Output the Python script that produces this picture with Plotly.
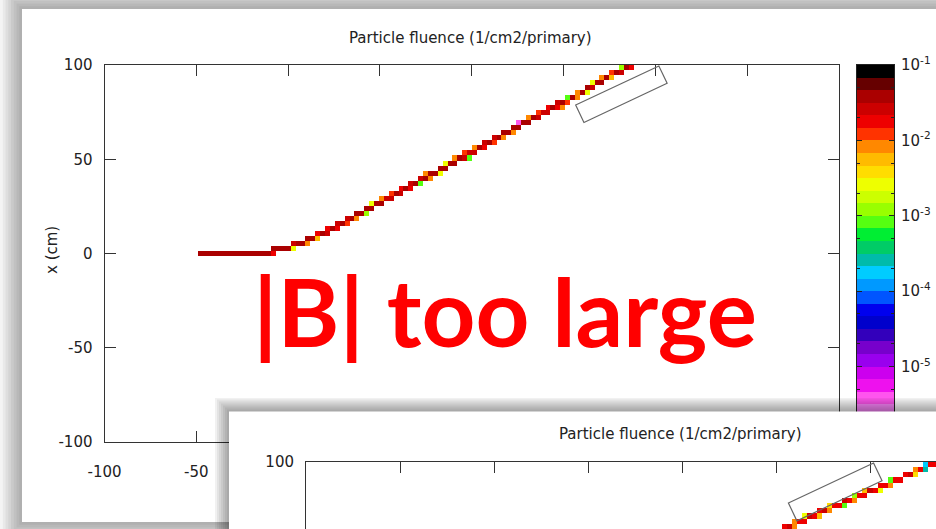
import math
import plotly.graph_objects as go

W, H = 936, 529

# ---------------- data ----------------
title_text = "Particle fluence (1/cm2/primary)"
overlay_text = "|B| too large"
vert_title = "x (cm)"

z_range = [-100, 300]      # horizontal axis (cm)
x_range = [-100, 100]      # vertical axis (cm)
n_zbins = 150
n_xbins = 75
z_ticks_labelled = [-100, -50]                       # the rest are hidden by the inset
z_tick_labels = ["-100", "-50"]
z_ticks_unlabelled = [0, 50, 100, 150, 200, 250, 300]
z_ticks = [-100, -50, 0, 50, 100, 150, 200, 250, 300]
x_ticks = [-100, -50, 0, 50, 100]
x_tick_labels = ["-100", "-50", "0", "50", "100"]

cb_log_range = [-6, -1]
cb_decades = [-1, -2, -3, -4, -5]
cb_labels = ["10<sup>-1</sup>", "10<sup>-2</sup>", "10<sup>-3</sup>",
             "10<sup>-4</sup>", "10<sup>-5</sup>"]
# palette, top (10^-1) to bottom (10^-6)
cb_colors = ["#000000", "#660000", "#aa0000", "#cc0000", "#ee0000", "#ff3300",
             "#ff8800", "#ffbb00", "#ffdd00", "#eeff00", "#ccff00", "#99ff00",
             "#55ff11", "#00ee33", "#00cc66", "#00bbaa", "#00ccff", "#0099ff",
             "#0055ff", "#0000ee", "#0000cc", "#3300bb", "#7700cc", "#9900ee",
             "#cc00ee", "#ee11ee", "#ff55ee", "#ff88ff", "#ffaaff", "#ffccff"]

# magnet box outline (z, x in cm)
box_z = [156.6, 201.9, 206.4, 161.1]
box_x = [78.8, 99.5, 90.3, 69.5]

# panel 1 track: per row of x-bins, centre of first z-cell and log10(fluence) of consecutive cells
p1_row_x = [0.0, 2.67, 5.33, 8.0, 10.67, 13.33, 16.0, 18.67, 21.33, 24.0, 26.67, 29.33,
            32.0, 34.67, 37.33, 40.0, 42.67, 45.33, 48.0, 50.67, 53.33, 56.0, 58.67, 61.33,
            64.0, 66.67, 69.33, 72.0, 74.67, 77.33, 80.0, 82.67, 85.33, 88.0, 90.67, 93.33,
            96.0, 98.67]
p1_row_z0 = [-48.0, -8.0, 2.67, 10.67, 16.0, 21.33, 26.67, 32.0, 37.33, 42.67, 45.33, 50.67,
             56.0, 61.33, 66.67, 72.0, 74.67, 82.67, 85.33, 90.67, 96.0, 101.33, 106.67, 112.0,
             117.33, 122.67, 125.33, 130.67, 136.0, 141.33, 146.67, 152.0, 157.33, 162.67,
             165.33, 170.67, 176.0, 181.33]
p1_row_logf = [
    [-1.42, -1.41, -1.40, -1.42, -1.41, -1.40, -1.42, -1.41, -1.40, -1.42, -1.41, -1.40,
     -1.42, -1.41, -1.40, -1.80],
    [-1.45, -1.40, -1.40, -1.45, -2.60],
    [-1.52, -1.40, -1.42, -2.10],
    [-1.42, -1.40, -2.20],
    [-1.75, -1.40, -1.60],
    [-1.76, -1.40, -1.76],
    [-1.65, -1.40, -1.91],
    [-1.56, -1.40, -2.13],
    [-1.49, -1.40, -2.90],
    [-1.43, -1.43],
    [-2.60, -1.40, -1.49],
    [-2.13, -1.55, -1.56],
    [-1.91, -1.40, -1.65],
    [-1.76, -1.40, -1.76],
    [-1.65, -1.40, -3.10],
    [-1.56, -1.40, -2.13],
    [-2.10, -1.49, -1.40, -2.60],
    [-1.43, -1.43],
    [-2.60, -1.40, -1.49],
    [-2.13, -1.40, -1.56, -3.10],
    [-1.91, -1.58, -1.65],
    [-2.10, -1.40, -1.76],
    [-1.65, -1.40, -1.91],
    [-1.56, -1.40, -2.13],
    [-1.49, -1.40, -2.10],
    [-1.43, -1.43],
    [-5.40, -1.40, -1.49],
    [-2.13, -1.40, -1.56],
    [-1.91, -1.55, -1.65],
    [-1.76, -1.40, -1.76, -2.10],
    [-1.65, -1.40, -1.91],
    [-3.10, -1.40, -2.13],
    [-2.15, -1.40, -2.60],
    [-1.43, -1.60],
    [-2.60, -1.40, -1.49],
    [-2.13, -1.40, -2.20],
    [-1.91, -1.40, -1.65],
    [-2.95, -1.40, -1.76],
]

# panel 2 track (lower-right inset)
p2_row_x = [64.0, 66.67, 69.33, 72.0, 74.67, 77.33, 80.0, 82.67, 85.33, 88.0, 90.67, 93.33,
            96.0, 98.67]
p2_row_z0 = [149.33, 154.67, 160.0, 165.33, 173.33, 178.67, 186.67, 192.0, 197.33, 205.33,
             210.67, 218.67, 224.0, 229.33]
p2_row_logf = [
    [-1.70, -1.80, -2.60],
    [-1.75, -1.65, -2.10],
    [-2.02, -1.70, -1.75],
    [-2.60, -1.65, -1.80, -2.20],
    [-1.70, -1.65, -2.05],
    [-2.40, -1.70, -1.80, -3.10],
    [-1.65, -1.75, -2.10],
    [-2.90, -1.70, -1.80],
    [-2.30, -1.65, -1.75, -2.60],
    [-1.75, -1.70, -2.10],
    [-3.10, -1.70, -1.80],
    [-1.75, -1.65, -2.40],
    [-2.10, -1.70, -3.60],
    [-3.70, -1.75, -1.80, -2.60],
]

# ---------------- helpers ----------------
def fx(px):
    return px / W


def fy(py):
    return 1 - py / H


lo_to_hi = cb_colors[::-1]
ncol = len(lo_to_hi)
cscale = []
for k, c in enumerate(lo_to_hi):
    cscale.append([k / ncol, c])
    cscale.append([(k + 1) / ncol, c])

DZ = (z_range[1] - z_range[0]) / n_zbins
DX = (x_range[1] - x_range[0]) / n_xbins
zc = [z_range[0] + DZ * (i + 0.5) for i in range(n_zbins)]
xc = [x_range[0] + DX * (j + 0.5) for j in range(n_xbins)]


def build_grid(rx, rz0, rv):
    g = [[None] * n_zbins for _ in range(n_xbins)]
    for x, z0, vals in zip(rx, rz0, rv):
        j = int(round((x - x_range[0]) / DX - 0.5))
        i0 = int(round((z0 - z_range[0]) / DZ - 0.5))
        for k, v in enumerate(vals):
            if 0 <= i0 + k < n_zbins and 0 <= j < n_xbins:
                g[j][i0 + k] = v
    return g


def heat(grid, xa, ya):
    return go.Heatmap(x=zc, y=xc, z=grid, colorscale=cscale, zmin=cb_log_range[0],
                      zmax=cb_log_range[1], showscale=False, hoverinfo="skip",
                      xaxis=xa, yaxis=ya)


def rect_trace(x0, y0, x1, y1, color):
    return go.Scatter(x=[x0, x1, x1, x0, x0], y=[y0, y0, y1, y1, y0], fill="toself",
                      fillcolor=color, mode="lines", line=dict(width=0, color=color),
                      hoverinfo="skip", showlegend=False, xaxis="x3", yaxis="y3")


fig = go.Figure()

# panel 1 heatmap
fig.add_trace(heat(build_grid(p1_row_x, p1_row_z0, p1_row_logf), "x", "y"))

# colour bar as a one-column heatmap
span = cb_log_range[1] - cb_log_range[0]
cb_y = [cb_log_range[0] + (k + 0.5) * span / ncol for k in range(ncol)]
fig.add_trace(go.Heatmap(x=[0], y=cb_y, z=[[v] for v in cb_y], colorscale=cscale,
                         zmin=cb_log_range[0], zmax=cb_log_range[1], showscale=False,
                         hoverinfo="skip", xaxis="x2", yaxis="y2"))

# panel 2 drop shadow + white sheet (pixel coordinates on hidden axes)
P2_EDGE_X, P2_EDGE_Y = 229, 411.5
for k in range(7, 0, -1):
    fig.add_trace(rect_trace(P2_EDGE_X - 2 * k, P2_EDGE_Y - 2 * k, 960, 540,
                             "rgba(0,0,0,0.055)"))
fig.add_trace(rect_trace(P2_EDGE_X, P2_EDGE_Y, 960, 540, "#ffffff"))

# panel 2 heatmap
fig.add_trace(heat(build_grid(p2_row_x, p2_row_z0, p2_row_logf), "x4", "y4"))

# ---------------- layout ----------------
FS = 15
LC = "#333"
axis_font = dict(family="DejaVu Sans", size=FS, color="#222")


def frame_axis(**kw):
    d = dict(showline=True, linecolor=LC, linewidth=1, mirror="ticks", ticks="inside",
             ticklen=11, tickwidth=1, tickcolor=LC, showgrid=False, zeroline=False,
             tickfont=axis_font, fixedrange=True)
    d.update(kw)
    return d


minor_vals = [-6]
for d in range(-2, -7, -1):
    minor_vals += [d + math.log10(5), d + math.log10(2)]

P2_SX, P2_SY = 1.88, 1.93

shapes = []
# panel 1 sheet shadow
for k in range(8, 0, -1):
    shapes.append(dict(type="rect", xref="paper", yref="paper", layer="below",
                       x0=fx(22 - 2.75 * k), x1=fx(980), y0=fy(522 + 2.75 * k),
                       y1=fy(9 - 2.75 * k), line=dict(width=0),
                       fillcolor="rgba(0,0,0,0.045)"))
shapes.append(dict(type="rect", xref="paper", yref="paper", layer="below",
                   x0=fx(22), x1=fx(980), y0=fy(522), y1=fy(9), line=dict(width=0),
                   fillcolor="#ffffff"))
box_path = "M " + " L ".join(f"{z},{x}" for z, x in zip(box_z, box_x)) + " Z"
shapes.append(dict(type="path", path=box_path, xref="x", yref="y", layer="above",
                   line=dict(color="#666", width=1.2)))
shapes.append(dict(type="path", path=box_path, xref="x4", yref="y4", layer="above",
                   line=dict(color="#666", width=1.2)))

annotations = [
    dict(x=fx(470), y=fy(38), xref="paper", yref="paper", text=title_text, showarrow=False,
         xanchor="center", yanchor="middle", font=dict(family="DejaVu Sans", size=FS, color="#222")),
    dict(x=fx(52), y=fy(250), xref="paper", yref="paper", text=vert_title, showarrow=False,
         textangle=-90, xanchor="center", yanchor="middle",
         font=dict(family="DejaVu Sans", size=FS, color="#222")),
    dict(x=fx(505), y=fy(310), xref="paper", yref="paper", text=overlay_text, showarrow=False,
         xanchor="center", yanchor="middle",
         font=dict(family="Lato", size=94, color="#ff0000", weight=700)),
    dict(x=fx(680), y=fy(434), xref="paper", yref="paper", text=title_text, showarrow=False,
         xanchor="center", yanchor="middle", font=dict(family="DejaVu Sans", size=FS, color="#222")),
]

fig.update_layout(
    width=W, height=H, autosize=False, template="none",
    margin=dict(l=0, r=0, t=0, b=0, pad=0),
    paper_bgcolor="#ffffff", plot_bgcolor="rgba(0,0,0,0)",
    font=dict(family="DejaVu Sans", size=FS, color="#222"),
    showlegend=False,
    xaxis=frame_axis(domain=[fx(104.5), fx(839)], range=z_range, tickvals=z_ticks_labelled,
                     ticktext=z_tick_labels, anchor="y", ticklabelstandoff=16,
                     minor=dict(tickvals=z_ticks_unlabelled, ticks="inside", ticklen=11,
                                tickwidth=1, tickcolor=LC, showgrid=False)),
    yaxis=frame_axis(domain=[fy(442), fy(65)], range=x_range, tickvals=x_ticks,
                     ticktext=x_tick_labels, anchor="x", ticklabelstandoff=8),
    xaxis2=dict(domain=[fx(857), fx(894)], range=[-0.5, 0.5], showline=True, mirror=True,
                linecolor="#222", linewidth=1, showticklabels=False, ticks="",
                showgrid=False, zeroline=False, anchor="y2", fixedrange=True),
    yaxis2=dict(domain=[fy(442), fy(65)], range=cb_log_range, side="right", anchor="x2",
                showline=True, mirror="ticks", linecolor="#222", linewidth=1,
                ticks="inside", ticklen=5, tickcolor="#222", tickvals=cb_decades,
                ticktext=cb_labels, tickfont=axis_font,
                minor=dict(tickvals=minor_vals, ticks="inside", ticklen=3, tickcolor="#222"),
                showgrid=False, zeroline=False, ticklabelstandoff=3, fixedrange=True),
    xaxis3=dict(domain=[fx(214), 1], range=[214, 936], visible=False, anchor="y3",
                fixedrange=True),
    yaxis3=dict(domain=[0, fy(398)], range=[529, 398], visible=False, anchor="x3",
                fixedrange=True),
    xaxis4=frame_axis(domain=[fx(306), 1], range=[-100, -100 + (936 - 306) / P2_SX],
                      tickvals=z_ticks, showticklabels=False, side="top", mirror=False,
                      anchor="y4"),
    yaxis4=frame_axis(domain=[0, fy(462)], range=[100 - (529 - 462) / P2_SY, 100],
                      tickvals=x_ticks, ticktext=x_tick_labels, anchor="x4", mirror=False,
                      ticklabelstandoff=8),
    shapes=shapes,
    annotations=annotations,
)

fig.write_html("out.html", config={"displayModeBar": False},
               post_script="document.body.style.margin='0px';"
                           "document.body.style.overflow='hidden';")
